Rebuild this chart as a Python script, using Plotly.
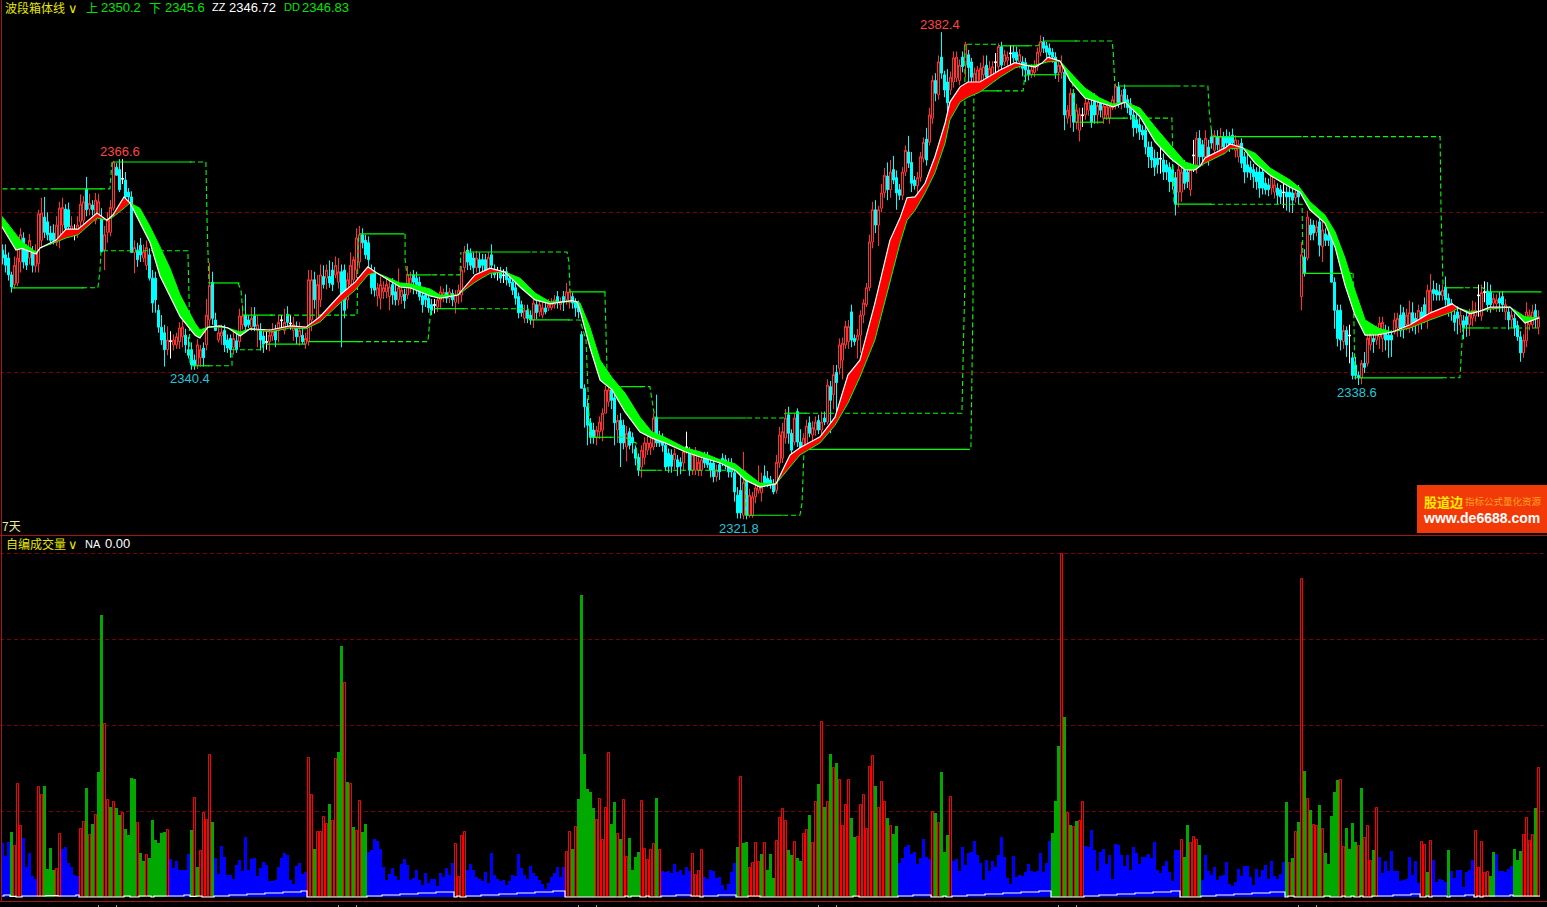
import numpy as np
import plotly.graph_objects as go

# ---------- candles (price) ----------
KIND_ROWS = [
"d d d d u u u d d u","d u u u d d d d u u","u d d u w u u u d u","d u u d u u u u d d","w d d d u d d u u d",
"d d d d d u w u u u","u d d d d u u d u u","d d u u d d d u d u","u d d u d u d d w u","u d u w u d w u d u",
"d u u u d u u d u d","d u u d d u u u u u","d d d d d u u u u u","d d u u d u u d d d","d d d d w u u u d u",
"d u u u u d d d u d","d d u d d w d w d d","d d d d u d d u d u","u d u u u d u d u u","d d d d d d d d u u",
"u u u d d u d d u d","d d d u u u u u d d","d d d d u d d u w d","u u u u d d d d u d","d d d d d d d u d u",
"u u u u d d d d u u","u u d d u d d u u d","u u d u d u d u d u","u u u d d u u u u u","u d u u u d u d d d",
"u u d d d u u u d u","u d u d d d u u u u","d u d d u u u u d u","u w u d u u w d d u","d d d u u u u d d d",
"d d u u d u u d u u","w u u d d u d u u u","u u d u d d d d d d","d d d d d d w d d d","d d u u d d u w u d",
"d u d d u d u d d d","d u u d d d d d d d","d d d u u d d w d d","d u d u d u d d u d","u d d d d d d u d w",
"d d d u d u u d u u","u d d d u u d d u u","d d u d d u u d d d","u d d d d d u d d u","u u w u w d d u u d",
"d u d u d d d u u u","u d u"]

TOP = [
2355.3,2354.7,2354.3,2352.2,2353.4,2354.3,2357.2,2356.8,2355.3,2356.5,
2355.0,2355.0,2359.8,2359.9,2359.4,2358.8,2357.4,2357.4,2358.4,2360.5,
2360.6,2360.4,2360.3,2358.3,2357.5,2358.4,2361.0,2361.3,2362.9,2361.1,
2360.9,2361.5,2361.3,2359.3,2357.2,2359.0,2360.6,2366.25,2365.6,2365.3,
2364.2,2364.0,2362.5,2361.9,2355.6,2355.3,2355.9,2355.1,2355.6,2354.7,
2351.8,2351.8,2347.8,2345.7,2345.0,2344.1,2344.0,2344.1,2344.5,2345.6,
2345.7,2344.7,2342.9,2342.9,2341.6,2343.5,2342.9,2343.1,2347.2,2350.9,
2351.3,2346.6,2345.0,2345.1,2345.3,2344.1,2344.3,2344.3,2344.0,2347.1,
2347.1,2347.2,2346.6,2346.8,2347.1,2346.0,2345.3,2344.6,2343.9,2344.7,
2345.1,2345.3,2346.3,2346.6,2346.3,2347.3,2346.2,2346.0,2345.7,2345.3,
2344.7,2344.3,2351.6,2351.6,2351.6,2351.0,2352.2,2352.0,2352.8,2352.0,
2352.8,2353.4,2352.6,2352.6,2352.8,2351.6,2353.4,2354.1,2356.8,2357.2,
2357.2,2356.5,2356.2,2352.6,2352.6,2350.6,2351.0,2350.6,2351.0,2350.7,
2351.0,2350.1,2350.6,2350.3,2349.8,2352.2,2351.8,2352.2,2351.8,2351.3,
2349.6,2349.7,2349.3,2348.5,2348.5,2349.1,2350.1,2350.0,2350.0,2350.1,
2349.9,2349.7,2350.3,2352.8,2355.05,2355.3,2354.9,2354.3,2354.3,2354.1,
2354.1,2354.1,2354.4,2354.7,2352.8,2352.6,2352.6,2352.2,2352.6,2351.8,
2351.3,2350.6,2349.5,2348.5,2347.8,2347.8,2347.2,2348.7,2348.5,2348.5,
2348.1,2348.1,2348.5,2348.7,2349.1,2349.5,2348.8,2349.5,2350.1,2350.1,
2349.5,2348.8,2348.5,2344.8,2338.1,2335.8,2333.8,2332.9,2332.9,2333.9,
2335.0,2337.9,2337.9,2337.9,2336.9,2334.1,2334.1,2333.5,2332.5,2332.7,
2332.0,2330.5,2329.5,2330.4,2331.3,2331.3,2331.3,2334.4,2334.5,2332.0,
2331.9,2331.0,2330.0,2329.8,2330.0,2329.2,2328.9,2330.2,2330.8,2330.2,
2329.8,2330.0,2328.9,2329.2,2329.5,2329.5,2328.8,2328.8,2327.9,2328.6,
2329.4,2329.2,2328.8,2328.8,2327.6,2324.8,2325.4,2326.4,2326.7,2324.8,
2324.6,2325.7,2326.1,2325.8,2327.2,2326.9,2326.7,2326.1,2328.9,2332.3,
2332.7,2334.4,2334.8,2332.5,2334.4,2335.2,2331.4,2331.9,2333.4,2333.8,
2333.2,2333.9,2334.1,2333.9,2334.4,2338.5,2338.3,2339.8,2340.1,2343.5,
2343.7,2345.8,2345.8,2347.6,2344.3,2344.7,2347.2,2348.7,2350.6,2356.3,
2360.3,2360.3,2360.3,2362.4,2364.6,2364.5,2365.0,2365.3,2364.3,2362.8,
2365.0,2367.7,2367.5,2366.2,2364.0,2364.3,2366.9,2368.7,2369.1,2372.1,
2376.4,2376.4,2378.7,2379.3,2377.1,2376.2,2376.8,2379.2,2379.3,2378.3,
2379.3,2380.9,2379.6,2378.7,2377.3,2377.7,2377.9,2378.1,2378.3,2377.9,
2378.1,2378.7,2380.6,2380.6,2379.6,2379.3,2379.8,2379.9,2379.9,2379.6,
2378.7,2378.6,2377.7,2377.7,2378.3,2379.9,2381.2,2381.2,2380.7,2380.4,
2379.9,2379.3,2378.3,2378.3,2377.4,2372.7,2374.8,2374.8,2372.7,2372.2,
2372.1,2373.6,2373.7,2373.3,2374.0,2373.3,2373.6,2373.2,2373.2,2373.1,
2374.0,2375.7,2375.6,2374.6,2375.3,2374.0,2373.5,2372.1,2371.5,2370.9,
2370.2,2370.2,2368.1,2368.1,2366.7,2366.7,2366.7,2366.5,2365.9,2365.6,
2365.3,2364.3,2365.3,2365.0,2365.3,2365.0,2365.3,2367.1,2369.2,2369.2,
2368.4,2369.2,2368.1,2369.4,2369.6,2369.4,2369.4,2369.4,2369.4,2369.4,
2369.6,2369.0,2368.4,2368.6,2366.9,2365.9,2365.6,2365.3,2365.0,2365.0,
2365.0,2363.6,2363.4,2364.6,2363.4,2363.0,2362.8,2362.5,2362.5,2362.5,
2362.4,2362.4,2362.8,2354.7,2354.4,2359.4,2358.4,2358.4,2358.2,2358.8,
2357.8,2357.3,2357.1,2356.8,2351.3,2347.8,2347.8,2345.3,2345.3,2344.7,
2341.9,2341.0,2339.7,2341.2,2341.2,2344.3,2344.7,2344.3,2345.3,2346.2,
2346.3,2345.0,2344.7,2344.7,2346.6,2346.8,2347.2,2347.5,2347.2,2347.5,
2347.5,2346.8,2347.8,2347.6,2348.5,2350.3,2350.3,2350.4,2350.3,2350.1,
2350.3,2350.7,2349.3,2348.7,2347.2,2347.6,2347.2,2346.5,2347.0,2347.2,
2347.8,2347.8,2349.7,2350.0,2350.1,2350.2,2350.1,2349.3,2349.1,2349.3,
2349.5,2348.5,2347.6,2347.2,2346.8,2345.9,2344.5,2344.1,2347.6,2347.2,
2347.6,2347.8,2347.0]
BOTTOM = [
2354.3,2353.4,2352.2,2350.7,2351.0,2351.2,2353.8,2353.8,2353.4,2354.3,
2353.4,2353.3,2353.6,2356.5,2357.5,2357.2,2356.5,2356.5,2356.2,2356.5,
2358.4,2358.0,2358.2,2357.5,2357.4,2357.5,2358.8,2359.0,2360.3,2360.4,
2360.3,2359.0,2359.7,2355.1,2355.3,2357.5,2357.5,2360.5,2364.6,2362.8,
2364.1,2361.9,2361.9,2355.0,2355.0,2354.1,2354.7,2354.3,2353.4,2351.8,
2348.7,2349.1,2345.7,2344.1,2342.9,2342.9,2343.9,2343.5,2343.5,2343.9,
2344.5,2343.5,2342.2,2341.0,2340.9,2341.0,2341.9,2341.9,2343.5,2346.6,
2346.8,2345.3,2344.1,2344.6,2343.5,2343.1,2342.9,2343.2,2342.9,2343.9,
2346.0,2345.8,2346.0,2345.7,2345.8,2345.3,2344.1,2343.6,2343.8,2343.9,
2344.6,2344.1,2345.3,2346.5,2345.3,2346.3,2346.1,2345.3,2344.5,2344.5,
2343.9,2343.6,2343.9,2346.6,2349.1,2346.8,2349.1,2351.0,2351.8,2351.2,
2351.0,2352.2,2351.3,2349.6,2347.8,2349.1,2351.0,2351.6,2352.8,2353.8,
2356.2,2354.7,2354.1,2350.6,2350.3,2349.6,2349.3,2350.1,2350.1,2349.5,
2349.7,2349.1,2349.1,2349.5,2349.0,2349.7,2350.6,2351.3,2351.0,2349.5,
2348.5,2349.1,2348.1,2347.8,2348.4,2348.2,2349.1,2349.3,2349.3,2349.3,
2349.1,2348.8,2349.7,2349.7,2353.1,2353.8,2353.4,2353.1,2353.1,2353.1,
2353.4,2352.8,2352.8,2353.4,2352.2,2352.5,2351.8,2352.1,2351.6,2351.2,
2350.3,2349.3,2347.5,2347.5,2346.8,2346.8,2346.6,2346.6,2347.5,2347.6,
2347.2,2347.6,2348.1,2348.1,2348.5,2348.8,2348.5,2348.8,2349.1,2348.8,
2348.7,2348.1,2347.6,2338.1,2335.8,2333.5,2332.0,2332.0,2332.0,2332.7,
2332.9,2335.0,2336.4,2336.6,2333.8,2332.9,2331.3,2331.3,2330.8,2331.0,
2331.3,2329.4,2327.9,2328.3,2329.5,2330.4,2330.7,2330.8,2331.3,2331.3,
2331.0,2328.3,2328.4,2328.4,2329.2,2328.3,2328.4,2328.8,2330.7,2327.9,
2327.9,2327.9,2327.9,2327.9,2328.8,2328.6,2327.9,2327.1,2327.1,2327.7,
2328.8,2328.6,2327.7,2327.7,2325.2,2322.6,2322.6,2322.3,2322.3,2322.3,
2322.3,2324.6,2325.4,2325.1,2326.3,2326.3,2326.1,2325.2,2325.4,2328.8,
2329.4,2331.9,2332.5,2330.4,2331.4,2331.4,2330.4,2330.7,2331.0,2332.5,
2332.3,2332.9,2332.9,2332.9,2333.9,2333.9,2336.6,2337.3,2338.8,2340.6,
2341.6,2343.5,2343.9,2344.1,2343.9,2344.1,2344.7,2347.2,2348.5,2350.6,
2356.3,2358.4,2358.4,2360.5,2362.4,2362.8,2362.8,2364.0,2362.4,2362.1,
2362.1,2365.0,2366.1,2363.6,2363.3,2363.3,2364.3,2366.7,2366.5,2368.7,
2371.7,2374.8,2374.6,2377.3,2375.2,2373.6,2375.2,2376.2,2376.7,2376.4,
2378.1,2378.3,2378.0,2376.8,2375.8,2375.5,2376.4,2377.1,2376.8,2376.7,
2377.1,2378.6,2378.1,2378.3,2378.7,2378.9,2379.7,2379.2,2378.9,2378.7,
2377.9,2377.7,2377.1,2377.1,2377.4,2378.1,2379.9,2380.4,2379.9,2379.6,
2379.3,2377.3,2377.4,2377.4,2372.1,2371.7,2372.0,2371.2,2371.2,2370.2,
2372.0,2372.1,2372.7,2371.2,2372.1,2372.1,2372.7,2371.7,2372.1,2371.7,
2373.0,2373.3,2373.6,2373.6,2373.7,2373.0,2372.1,2370.5,2370.5,2370.0,
2369.6,2368.1,2366.9,2366.5,2365.6,2365.9,2366.6,2365.0,2365.0,2363.8,
2363.8,2361.0,2362.5,2362.5,2363.6,2363.8,2362.8,2367.0,2365.9,2366.9,
2366.9,2366.9,2366.9,2368.6,2367.7,2368.4,2367.7,2368.1,2368.6,2368.4,
2368.6,2367.7,2366.9,2366.1,2365.0,2365.0,2364.9,2364.4,2363.8,2363.0,
2363.0,2362.8,2362.8,2363.0,2362.5,2362.1,2361.9,2362.4,2361.9,2361.9,
2361.5,2361.8,2361.9,2349.5,2352.4,2354.3,2357.2,2357.4,2357.5,2355.9,
2355.7,2356.5,2356.5,2351.3,2347.8,2344.3,2344.1,2343.9,2343.5,2344.6,
2339.7,2339.7,2339.4,2339.4,2340.7,2341.2,2343.5,2343.9,2344.1,2344.5,
2344.3,2344.1,2344.1,2344.1,2345.1,2345.6,2345.3,2345.7,2346.0,2345.7,
2346.0,2346.0,2346.2,2346.6,2347.0,2347.2,2347.6,2349.9,2349.7,2349.7,
2349.6,2349.1,2348.1,2347.6,2346.3,2346.8,2346.0,2345.6,2346.0,2346.0,
2346.8,2347.1,2349.6,2347.1,2350.0,2348.5,2348.5,2348.7,2348.6,2348.7,
2348.5,2347.6,2346.6,2346.6,2345.6,2344.5,2342.5,2342.5,2344.0,2346.0,
2346.0,2346.8,2345.7]
HIGH = [
2356.0,2356.0,2355.0,2352.6,2354.5,2355.5,2358.0,2357.5,2356.0,2357.3,
2355.8,2356.0,2360.3,2361.8,2361.9,2360.0,2358.3,2358.5,2359.5,2361.3,
2361.8,2361.0,2361.2,2359.5,2358.5,2359.5,2362.2,2362.0,2364.4,2362.3,
2361.5,2362.4,2362.3,2360.5,2358.3,2360.0,2361.5,2366.4,2366.1,2366.6,
2366.6,2365.0,2363.0,2362.6,2356.5,2356.2,2356.8,2356.0,2356.5,2355.5,
2352.8,2352.6,2348.5,2347.2,2346.0,2345.8,2345.2,2344.8,2345.0,2346.3,
2346.5,2345.5,2344.5,2343.8,2342.3,2344.2,2343.5,2343.8,2349.2,2353.7,
2352.6,2347.5,2345.8,2346.0,2346.0,2344.8,2344.8,2345.3,2345.0,2348.0,
2348.5,2349.8,2347.2,2348.2,2348.2,2347.2,2346.2,2345.2,2345.2,2345.5,
2346.2,2346.0,2347.2,2347.2,2348.0,2348.3,2347.2,2347.0,2346.4,2346.3,
2345.5,2345.0,2352.8,2352.8,2352.6,2352.2,2353.5,2353.4,2353.5,2354.0,
2353.8,2354.5,2354.3,2353.5,2353.5,2352.5,2355.0,2354.5,2358.0,2358.3,
2358.0,2357.2,2357.0,2353.5,2353.2,2351.2,2352.0,2351.4,2352.0,2351.5,
2351.8,2351.0,2353.0,2351.2,2350.5,2353.3,2352.6,2352.8,2352.6,2352.0,
2350.3,2350.2,2350.0,2349.2,2349.2,2349.7,2350.8,2350.5,2351.0,2350.6,
2350.4,2350.3,2351.0,2353.3,2355.8,2356.1,2355.5,2355.0,2355.2,2355.0,
2354.8,2354.8,2355.0,2356.0,2353.5,2353.2,2353.2,2352.9,2353.2,2352.4,
2352.0,2351.2,2350.0,2349.0,2348.5,2348.5,2347.8,2349.3,2349.2,2349.2,
2348.8,2348.7,2349.2,2349.3,2349.7,2350.2,2349.4,2350.2,2351.2,2350.5,
2350.0,2349.3,2349.0,2345.2,2338.6,2336.8,2334.4,2333.8,2333.4,2334.6,
2335.6,2338.4,2338.8,2338.6,2337.3,2334.8,2335.0,2334.2,2333.4,2333.2,
2332.6,2331.0,2330.0,2331.0,2332.0,2332.2,2332.0,2335.0,2337.3,2332.8,
2332.5,2331.6,2330.6,2330.5,2330.6,2329.8,2329.5,2330.8,2332.7,2330.8,
2330.4,2330.8,2329.5,2329.8,2330.2,2330.2,2329.6,2329.4,2328.6,2329.2,
2330.0,2329.8,2329.4,2329.4,2328.3,2325.8,2328.2,2330.2,2327.4,2325.6,
2325.2,2326.4,2328.5,2327.6,2328.5,2327.8,2327.2,2326.8,2329.8,2333.3,
2333.8,2335.5,2335.8,2333.0,2335.0,2335.6,2333.0,2332.5,2334.2,2334.6,
2334.0,2334.6,2334.8,2335.2,2335.2,2339.2,2339.0,2341.0,2341.0,2344.3,
2344.4,2346.5,2346.6,2348.5,2344.8,2345.5,2347.8,2349.2,2351.2,2357.2,
2361.3,2361.5,2360.8,2363.5,2365.5,2366.2,2366.5,2367.0,2365.2,2363.5,
2365.6,2368.3,2369.5,2367.5,2364.5,2365.0,2367.5,2369.3,2370.5,2373.0,
2377.0,2377.3,2379.5,2382.4,2377.6,2377.8,2377.5,2380.0,2380.0,2379.0,
2380.0,2381.2,2380.2,2379.2,2378.0,2378.2,2378.6,2379.5,2379.5,2378.8,
2378.8,2379.8,2381.0,2381.2,2380.2,2380.0,2380.8,2380.8,2380.6,2380.3,
2379.4,2379.2,2378.2,2378.4,2378.9,2380.5,2382.0,2381.8,2381.2,2381.0,
2380.4,2379.9,2378.8,2379.5,2378.0,2373.3,2375.4,2375.3,2373.5,2373.0,
2373.0,2374.3,2374.5,2374.2,2374.8,2374.2,2374.2,2373.8,2373.9,2373.6,
2374.5,2376.0,2376.2,2375.2,2375.9,2374.6,2374.2,2372.8,2372.2,2371.6,
2370.8,2370.8,2368.8,2368.8,2367.8,2367.5,2369.8,2367.3,2366.5,2366.2,
2366.0,2365.0,2365.8,2366.0,2366.5,2365.8,2366.0,2369.0,2370.0,2370.2,
2369.0,2370.2,2369.0,2370.3,2370.2,2370.2,2370.5,2370.0,2370.3,2370.0,
2370.4,2369.6,2369.0,2369.2,2367.5,2367.2,2366.4,2366.0,2365.6,2366.2,
2365.6,2364.3,2364.2,2365.2,2364.0,2363.6,2363.4,2363.8,2363.2,2363.4,
2363.0,2363.4,2363.4,2356.3,2355.4,2360.2,2359.2,2359.0,2359.0,2359.6,
2358.8,2358.0,2357.6,2357.5,2351.9,2348.5,2348.5,2346.0,2345.8,2346.0,
2342.6,2342.0,2340.2,2341.6,2342.6,2344.9,2345.5,2344.8,2345.9,2347.0,
2347.0,2346.0,2345.8,2345.3,2347.5,2347.5,2348.5,2348.2,2348.0,2349.0,
2348.8,2347.5,2348.5,2348.2,2349.4,2351.0,2352.3,2351.5,2351.2,2351.0,
2351.0,2352.0,2349.9,2349.2,2347.8,2348.3,2347.8,2347.2,2347.6,2348.0,
2349.0,2348.8,2351.0,2351.0,2351.4,2351.3,2351.0,2349.9,2349.8,2350.1,
2350.2,2349.2,2348.2,2347.8,2347.4,2346.5,2345.2,2344.8,2348.8,2347.9,
2348.5,2348.6,2347.8]
LOW = [
2353.5,2352.5,2351.5,2350.0,2350.5,2350.8,2352.5,2353.0,2352.8,2353.5,
2352.5,2352.5,2352.5,2355.5,2356.8,2356.5,2356.0,2356.0,2355.8,2355.5,
2357.5,2357.5,2357.4,2357.0,2356.5,2356.8,2358.0,2358.4,2359.5,2359.6,
2359.6,2358.5,2359.2,2355.0,2352.8,2356.2,2357.0,2360.2,2364.8,2362.5,
2363.5,2361.5,2361.2,2355.0,2352.4,2353.2,2353.8,2353.8,2352.8,2351.5,
2347.5,2347.5,2345.0,2343.5,2340.8,2342.2,2341.8,2342.8,2343.0,2343.0,
2343.2,2342.5,2341.8,2340.4,2340.4,2340.5,2340.8,2340.8,2342.8,2345.8,
2346.0,2345.2,2343.8,2343.5,2342.6,2342.5,2341.9,2342.3,2342.5,2343.2,
2345.4,2345.2,2345.6,2345.2,2345.2,2343.2,2342.8,2342.5,2342.9,2342.7,
2344.0,2343.2,2343.8,2345.5,2344.8,2345.8,2345.4,2344.0,2343.6,2343.4,
2343.6,2343.0,2343.4,2345.2,2348.0,2346.2,2348.2,2350.5,2350.4,2350.6,
2350.2,2351.8,2350.5,2343.2,2346.8,2348.0,2350.0,2350.2,2351.8,2353.0,
2355.5,2354.2,2353.2,2349.8,2349.5,2348.3,2347.9,2349.2,2349.3,2347.8,
2348.5,2348.4,2348.4,2348.6,2348.0,2349.2,2350.0,2349.8,2349.8,2349.0,
2347.5,2348.2,2347.5,2347.2,2347.4,2347.6,2348.0,2348.8,2348.7,2348.7,
2348.3,2347.4,2348.6,2348.8,2352.5,2352.8,2352.8,2352.3,2352.5,2352.5,
2352.6,2352.2,2352.2,2351.8,2351.8,2351.5,2351.2,2351.2,2350.9,2350.7,
2349.7,2348.5,2346.8,2347.0,2346.2,2346.2,2346.0,2345.6,2346.7,2347.0,
2346.8,2347.3,2347.7,2347.8,2348.0,2348.0,2347.8,2347.7,2348.5,2348.0,
2348.0,2347.0,2346.8,2338.1,2333.2,2331.0,2331.2,2331.2,2331.0,2331.8,
2331.5,2335.0,2335.8,2335.5,2331.0,2331.3,2328.3,2330.5,2329.0,2330.5,
2330.0,2328.5,2327.2,2327.0,2328.6,2329.8,2329.8,2330.4,2330.8,2330.8,
2330.2,2327.8,2327.6,2327.6,2328.0,2327.2,2327.4,2327.8,2330.0,2327.2,
2327.3,2327.3,2327.2,2327.2,2328.2,2328.2,2327.0,2326.4,2326.5,2326.7,
2328.4,2328.0,2327.0,2327.0,2324.0,2321.9,2321.9,2321.8,2321.8,2322.0,
2322.0,2323.8,2325.0,2324.0,2325.8,2325.8,2325.6,2324.9,2325.0,2328.2,
2328.8,2331.2,2331.2,2329.4,2331.0,2330.8,2329.8,2330.2,2330.4,2332.0,
2331.0,2332.2,2332.4,2332.3,2333.5,2333.6,2332.5,2335.5,2334.0,2339.8,
2339.2,2343.0,2343.0,2343.2,2343.4,2341.8,2342.5,2346.2,2348.2,2350.2,
2355.5,2357.4,2355.8,2360.0,2361.8,2361.5,2361.8,2363.5,2360.3,2361.5,
2361.5,2364.5,2365.5,2362.5,2362.8,2362.4,2363.8,2366.2,2365.8,2368.3,
2371.0,2373.8,2374.0,2376.6,2374.3,2372.5,2374.6,2375.5,2376.2,2375.8,
2377.4,2376.8,2375.0,2375.8,2374.5,2374.8,2375.6,2376.3,2375.8,2375.8,
2376.6,2377.2,2377.4,2377.3,2378.2,2378.2,2378.2,2378.6,2378.2,2377.9,
2376.9,2376.2,2376.4,2376.7,2376.8,2377.6,2379.4,2379.8,2379.2,2378.9,
2378.6,2376.6,2376.2,2376.6,2370.2,2371.0,2370.5,2370.0,2370.3,2368.8,
2370.6,2371.5,2372.0,2370.5,2371.0,2371.0,2371.8,2371.0,2371.5,2371.0,
2372.7,2372.8,2373.0,2372.8,2373.0,2372.3,2371.5,2369.4,2369.8,2369.0,
2369.0,2367.2,2365.5,2365.5,2364.5,2364.8,2364.8,2364.0,2364.0,2362.5,
2362.8,2359.6,2360.6,2361.3,2362.8,2363.0,2362.0,2365.0,2364.8,2365.8,
2365.8,2366.3,2365.8,2367.9,2367.0,2367.7,2367.0,2367.2,2367.8,2367.5,
2367.8,2366.8,2366.2,2365.5,2363.6,2364.3,2364.0,2363.0,2362.8,2361.8,
2362.2,2362.2,2362.0,2362.2,2361.7,2361.0,2361.0,2360.5,2360.2,2360.0,
2359.9,2361.2,2361.0,2347.8,2352.0,2354.0,2356.5,2356.5,2357.0,2354.5,
2353.8,2355.8,2355.8,2351.3,2345.5,2343.3,2342.8,2343.0,2342.0,2341.2,
2339.2,2339.2,2338.5,2338.6,2340.0,2340.8,2342.8,2342.5,2343.5,2343.0,
2342.6,2342.8,2341.9,2342.0,2344.8,2344.5,2344.5,2344.3,2345.3,2345.0,
2345.2,2344.8,2345.0,2345.4,2346.2,2345.5,2346.7,2349.0,2349.0,2349.0,
2349.0,2348.4,2347.0,2346.5,2345.2,2344.8,2345.0,2344.2,2344.5,2344.6,
2345.8,2346.4,2347.0,2346.5,2348.8,2347.6,2347.5,2347.8,2347.6,2347.6,
2347.6,2346.6,2345.4,2345.6,2344.6,2344.0,2341.4,2341.9,2343.2,2345.3,
2345.5,2345.6,2344.8]

# ---------- moving-average band: vertices (bar index), fast line, slow line ----------
BAND_X = [
-0.2,4.5,6.5,11.2,12.5,17.8,21.2,25.2,31.5,34.8,
36.8,40.5,42.5,45.8,49.2,52.5,55.8,59.2,64.2,65.8,
68.5,72.5,75.2,79.2,82.5,89.2,95.8,101.2,105.8,112.5,
117.5,121.8,124.5,132.5,135.8,142.5,145.8,151.8,157.5,162.5,
167.5,172.5,177.5,182.5,186.5,189.8,191.5,192.5,195.8,199.2,
203.2,207.5,212.5,216.5,220.8,227.5,232.5,239.2,244.2,247.5,
252.5,257.8,262.5,265.8,272.5,277.5,281.8,285.8,290.8,295.8,
299.2,301.5,304.2,307.5,310.8,314.2,315.8,319.2,321.8,325.8,332.5,
337.5,340.8,344.2,346.5,348.5,352.5,355.8,360.8,365.8,370.2,
374.2,379.2,384.2,389.2,394.2,397.5,399.2,400.8,407.5,409.2,
413.5,417.5,422.5,429.2,432.5,435.8,440.8,444.2,447.5,450.8,
454.2,458.5,463.2,469.2,475.8,483.2,485.2,489.2,492.5,495.8,
502.5,507.5,512.2]
FAST = [
2358.2,2355.3,2355.5,2354.8,2355.55,2356.5,2357.9,2357.9,2359.9,2359.0,
2359.65,2361.9,2361.15,2358.65,2356.2,2352.05,2349.6,2347.0,2344.7,2344.35,
2345.7,2345.85,2345.6,2344.6,2345.5,2345.35,2345.85,2345.7,2347.0,2349.7,
2351.3,2353.2,2352.5,2350.7,2350.6,2349.6,2349.3,2349.7,2352.2,2353.05,
2352.55,2350.7,2349.1,2348.6,2348.85,2349.0,2348.85,2347.8,2343.2,2339.1,
2337.9,2335.15,2332.65,2331.9,2331.3,2330.2,2329.55,2328.8,2327.9,2326.7,
2325.8,2326.2,2329.8,2330.7,2332.05,2334.5,2339.75,2341.6,2348.7,2356.5,
2359.3,2361.8,2361.9,2363.6,2366.9,2371.1,2373.7,2375.6,2376.2,2376.2,2377.7,
2378.6,2378.3,2378.05,2378.55,2379.3,2378.8,2376.4,2374.2,2373.6,2373.1,
2373.7,2371.85,2368.75,2366.75,2365.25,2365.25,2365.75,2366.75,2368.0,2368.5,
2368.0,2366.1,2364.6,2363.1,2362.5,2360.3,2358.65,2355.65,2350.95,2347.2,
2344.7,2344.75,2345.1,2346.0,2347.45,2348.6,2348.1,2347.35,2347.7,2348.2,
2348.2,2346.2,2346.85]
SLOW = [
2359.5,2357.2,2356.3,2355.05,2355.55,2356.3,2356.8,2357.2,2359.3,2359.0,
2359.4,2360.5,2361.15,2360.5,2358.2,2355.7,2353.05,2349.7,2346.2,2345.35,
2345.7,2345.7,2345.6,2345.1,2345.5,2345.1,2345.6,2345.5,2346.35,2348.7,
2350.3,2352.2,2352.5,2351.2,2351.1,2350.45,2349.7,2349.7,2351.3,2352.4,
2352.55,2351.8,2349.95,2348.85,2348.85,2348.85,2348.85,2348.7,2345.7,2341.6,
2339.4,2337.5,2334.5,2332.65,2332.0,2330.7,2330.2,2329.2,2328.7,2327.7,
2326.3,2326.2,2328.3,2329.8,2331.3,2333.5,2336.25,2339.5,2344.1,2351.2,
2356.2,2359.0,2360.25,2362.4,2364.9,2368.6,2371.5,2373.7,2374.3,2374.95,2376.8,
2377.95,2378.3,2378.3,2378.55,2378.7,2378.8,2377.4,2375.45,2374.2,2373.45,
2373.7,2372.95,2370.6,2368.4,2366.25,2365.85,2365.75,2366.1,2367.35,2367.9,
2368.0,2367.35,2365.5,2364.0,2363.0,2361.3,2359.65,2357.55,2354.3,2350.3,
2346.6,2345.6,2345.1,2345.6,2346.6,2347.6,2348.1,2347.6,2347.7,2347.95,
2348.2,2347.0,2346.85]

# ---------- box lines (bar index, price) ----------
SOLID_X = [3,27,None,16,33,None,37,63,None,70,79,None,80,90,None,63,69,None,88,101,None,102,119,None,119,134,None,135,143,None,
144,154,None,154,176,None,176,189,None,189,201,None,196,203,None,206,213,None,212,218,None,218,248,None,248,260,None,261,268,None,
267,321,None,333,342,None,342,351,None,324,332,None,347,358,None,359,367,None,367,374,None,372,391,None,391,403,None,403,433,None,
434,450,None,452,480,None,481,487,None,487,494,None,495,513]
SOLID_Y = [2350.6,2350.6,None,2362.9,2362.9,None,2366.25,2366.25,None,2351.2,2351.2,None,2347.2,2347.2,None,2340.9,2340.9,None,
2343.6,2343.6,None,2343.9,2343.9,None,2357.3,2357.3,None,2352.2,2352.2,None,2348.0,2348.0,None,2355.05,2355.05,None,2346.6,2346.6,None,
2350.1,2350.1,None,2332.0,2332.0,None,2338.3,2338.3,None,2327.9,2327.9,None,2334.4,2334.4,None,2322.3,2322.3,None,2335.0,2335.0,None,
2330.5,2330.5,None,2380.7,2380.7,None,2377.1,2377.1,None,2375.1,2375.1,None,2381.3,2381.3,None,2371.2,2371.2,None,2371.7,2371.7,None,
2375.7,2375.7,None,2361.0,2361.0,None,2369.4,2369.4,None,2352.4,2352.4,None,2339.4,2339.4,None,2350.6,2350.6,None,2345.6,2345.6,None,
2350.1,2350.1]
DASH_X = [0,16,None,32.5,35.8,36.5,None,62.5,67.8,68.2,68.8,69.8,None,78.5,79.5,80.2,None,89.2,118.2,118.5,118.8,None,
134.2,134.2,134.8,None,143.2,152.5,152.8,None,176.5,188.2,188.8,189.2,None,200.8,201.5,202.2,205.8,None,212.5,215.8,216.5,217.5,None,
248.2,260.2,260.8,None,267.5,319.8,320.8,320.8,331.5,332.5,None,341.5,345.2,346.5,None,357.5,369.8,370.2,370.8,None,391,401.8,402.2,403.2,None,
433.5,479.2,479.5,480.2,None,487.5,493.5,494.8,None,26.5,31.8,32.5,32.8,None,33.5,61.8,62.2,62.5,None,68.5,76.5,76.5,86.5,86.8,None,
118.5,141.8,142.8,None,153.5,175.2,175.8,None,188.5,192.5,194.5,195.8,None,202.5,207.5,211.2,211.8,None,218.2,247.5,247.8,None,
260.2,265.8,266.5,267.2,None,320.8,322.8,323.5,323.8,324.2,None,331.5,340.2,340.8,341.8,None,350.8,356.5,357.8,358.5,None,
373.5,389.8,390.5,390.8,None,402.5,433.2,433.5,434.2,None,450.2,450.8,451.5,None,479.8,485.8,486.8,487.5,None,494.2,511.8]
DASH_Y = [2362.9,2362.9,None,2362.9,2362.9,2366.25,None,2366.25,2366.25,2358.8,2351.2,2351.2,None,2351.2,2350.3,2347.2,None,2347.2,2347.2,2355.3,2357.3,None,
2357.3,2354.1,2352.2,None,2352.2,2352.2,2355.05,None,2355.05,2355.05,2353.8,2350.1,None,2350.1,2340.4,2338.5,2338.3,None,2338.3,2338.3,2336.6,2334.4,None,
2334.4,2334.4,2335.0,None,2335.0,2335.0,2351.6,2380.9,2380.9,2380.7,None,2380.7,2380.7,2381.3,None,2381.3,2381.3,2380.2,2375.7,None,2375.7,2375.7,2372.7,2369.4,None,
2369.4,2369.4,2360.3,2350.6,None,2350.6,2350.6,2350.1,None,2350.6,2350.6,2352.8,2355.05,None,2355.2,2355.2,2349.1,2340.9,None,2340.9,2340.9,2342.9,2342.9,2343.6,None,
2343.9,2343.9,2348.0,None,2348.0,2348.0,2346.6,None,2346.6,2346.6,2344.1,2332.0,None,2332.0,2332.0,2331.3,2327.9,None,2327.9,2327.9,2322.3,None,
2322.3,2322.3,2323.8,2330.5,None,2330.5,2330.5,2349.1,2375.0,2375.1,None,2375.1,2375.1,2377.0,2377.1,None,2377.1,2377.1,2371.2,2371.2,None,
2371.7,2371.7,2361.0,2361.0,None,2361.0,2361.0,2352.4,2352.4,None,2352.4,2339.4,2339.4,None,2339.4,2339.4,2345.6,2345.6,None,2345.6,2345.6]

# ---------- volume ----------
VOL = [
163,124,166,196,154,339,213,178,91,132,64,55,330,306,334,85,148,82,84,189,
145,151,103,91,67,64,204,225,328,186,220,246,376,847,519,291,271,285,268,247,
252,205,187,358,355,222,133,109,126,118,232,172,163,193,196,201,115,88,109,82,
82,82,130,202,297,91,138,252,231,426,226,118,70,154,121,67,67,55,97,112,
79,181,82,115,118,64,88,106,97,49,49,52,91,118,133,127,52,40,94,103,
70,76,417,306,145,195,195,240,220,280,228,414,436,754,642,346,339,211,198,288,
196,220,136,142,175,169,145,91,52,70,88,64,52,
100,114,97,52,58,82,52,37,73,43,55,55,34,73,61,88,67,103,159,60,183,195,82,100,82,61,55,49,76,43,133,67,55,49,52,37,49,67,64,130,88,67,55,94,73,64,52,40,25,43,61,73,91,61,91,
135,195,145,210,295,907,430,325,316,268,231,294,171,267,432,220,286,189,175,291,120,178,82,121,136,288,144,111,141,159,298,141,
79,76,79,73,100,76,82,67,91,79,129,66,78,141,61,55,82,79,58,61,37,22,40,76,103,
151,360,163,166,87,102,162,105,130,162,82,130,58,168,237,264,228,142,127,165,118,109,
189,201,247,162,285,340,525,271,285,430,387,403,351,213,276,351,238,181,180,276,306,204,390,423,334,267,345,285,238,213,190,214,
103,118,151,157,130,136,100,118,175,121,115,256,253,222,376,136,187,300,
109,115,79,151,97,133,136,169,127,103,52,112,79,109,91,127,181,121,58,40,124,61,67,64,76,100,79,76,79,133,76,103,169,
193,289,454,1030,541,252,217,210,229,228,285,
154,151,202,142,79,136,145,100,127,55,160,157,127,94,127,82,151,133,100,121,121,130,118,166,82,73,94,109,76,49,142,142,
171,121,217,162,180,171,157,
52,127,79,67,91,52,64,67,106,40,34,46,85,64,94,94,61,37,85,61,82,97,55,109,64,55,70,106,
286,102,118,195,226,954,379,294,262,216,213,277,204,133,100,244,316,352,351,150,208,145,223,166,153,328,177,213,108,142,267,
121,73,109,79,139,79,79,49,52,55,121,67,109,43,165,156,76,168,112,46,55,52,46,142,79,58,82,82,31,76,82,112,
198,87,165,72,75,64,136,130,79,79,76,85,94,145,112,139,186,237,168,186,268,387]
RED_BARS = [4,5,6,12,13,18,19,26,27,29,31,34,35,37,40,45,48,55,64,66,67,68,69,102,103,105,106,107,108,110,111,114,116,118,119,
151,152,153,154,188,189,191,198,199,200,201,202,205,207,208,213,214,215,216,217,219,230,231,232,233,246,249,250,251,252,254,258,259,260,261,264,
267,268,270,271,273,275,277,279,280,281,282,285,286,287,288,289,290,292,293,294,296,310,312,316,353,355,357,359,360,393,396,397,398,
429,431,433,435,437,438,440,446,447,452,454,455,456,458,473,474,476,491,492,493,494,495,507,508,509,510,512]
GREEN_BARS = [3,14,15,16,17,28,30,32,33,36,38,39,41,42,43,44,46,47,49,50,51,52,53,54,63,65,70,104,109,112,113,115,117,120,121,
190,192,193,194,195,196,197,203,204,206,209,210,211,212,218,245,247,248,253,255,256,257,262,263,265,266,
269,272,274,276,278,283,284,291,295,297,298,311,313,314,315,350,351,352,354,356,358,394,395,399,
428,430,432,434,436,439,441,442,443,444,445,448,449,450,451,453,457,475,482,496,497,504,505,506,511]

# step line under the volume bars: first bar of each step, and its value
STEP_I = [0,1,3,5,7,15,19,25,26,41,43,46,50,51,61,63,65,67,71,76,82,88,94,100,102,122,127,133,139,145,151,152,153,155,160,166,172,178,184,188,
208,209,210,213,215,216,220,225,230,233,234,239,245,249,253,284,286,299,304,310,314,315,317,322,328,334,340,346,350,361,366,372,378,384,390,393,
400,405,411,417,423,428,429,431,441,443,447,448,450,451,453,454,457,459,464,470,473,475,476,477,482,483,488,491,492,493,494,498,503,504]
STEP_V = [3,6,2,0,3,4,3,6,0,3,0,3,0,3,6,2,3,0,3,6,9,12,15,18,0,3,6,9,12,15,0,3,0,3,6,9,12,15,18,0,
3,0,3,0,3,0,3,6,3,0,3,6,0,3,0,3,0,3,6,0,3,0,3,6,9,12,15,18,0,3,6,9,12,15,18,0,
3,6,9,12,15,0,3,0,3,0,3,0,3,0,3,0,3,3,6,9,0,3,0,3,0,3,6,0,3,0,3,3,6,3]
AXIS_TICKS = [32,38,112,118,192,198,272,278,352,358,432,438]
VOL_GRID = [258,516,774,1032]
PRICE_GRID = [2360,2340]

# ---------- derived ----------
KIND = np.array(" ".join(KIND_ROWS).split())
idx = np.arange(513)
top, bot, hi, lo = map(np.array, (TOP, BOTTOM, HIGH, LOW))
opens = np.where(KIND == "d", top, bot)
closes = np.where(KIND == "d", bot, top)

fig = go.Figure()
def candles(mask, inc, dec):
    fig.add_trace(go.Candlestick(
        x=idx[mask], open=opens[mask], high=hi[mask], low=lo[mask], close=closes[mask],
        whiskerwidth=0, hoverinfo="skip", showlegend=False,
        increasing=dict(line=dict(color=inc, width=1), fillcolor="#000000" if inc != "#ffffff" else "#ffffff"),
        decreasing=dict(line=dict(color=dec, width=1), fillcolor=dec),
        xaxis="x", yaxis="y"))
candles(KIND == "u", "#ff3232", "#00ffff")
candles(KIND == "d", "#ff3232", "#00ffff")
candles(KIND == "w", "#ffffff", "#ffffff")

fig.add_trace(go.Scatter(x=SOLID_X, y=SOLID_Y, mode="lines", line=dict(color="#00ff00", width=1.2),
                         hoverinfo="skip", showlegend=False))
fig.add_trace(go.Scatter(x=DASH_X, y=DASH_Y, mode="lines", line=dict(color="#00ff00", width=1.1, dash="5px,3px"),
                         hoverinfo="skip", showlegend=False))

# band: one filled polygon for each run where the fast line stays on one side of the slow line
n = len(BAND_X)
k = 0
while k < n - 1:
    sign = (FAST[k] - SLOW[k]) + (FAST[k + 1] - SLOW[k + 1]) >= 0
    j = k + 1
    while j < n - 1 and ((FAST[j] - SLOW[j]) + (FAST[j + 1] - SLOW[j + 1]) >= 0) == sign:
        j += 1
    xs = BAND_X[k:j + 1]
    fig.add_trace(go.Scatter(x=xs + xs[::-1], y=FAST[k:j + 1] + SLOW[k:j + 1][::-1], mode="lines", fill="toself",
                             fillcolor="#ff0000" if sign else "#00ff00", line=dict(width=0),
                             hoverinfo="skip", showlegend=False))
    k = j
fig.add_trace(go.Scatter(x=BAND_X, y=SLOW, mode="lines", line=dict(color="#00ff00", width=1), hoverinfo="skip", showlegend=False))
fig.add_trace(go.Scatter(x=BAND_X, y=FAST, mode="lines", line=dict(color="#ffffff", width=1.2), hoverinfo="skip", showlegend=False))

# volume
vol = np.array(VOL)
red = np.array(RED_BARS)
green = np.array(GREEN_BARS)
blue = np.setdiff1d(idx, np.concatenate([red, green]))
fig.add_trace(go.Bar(x=blue, y=vol[blue], width=1.0, marker=dict(color="#0000ff", line=dict(width=0)),
                     hoverinfo="skip", showlegend=False, xaxis="x2", yaxis="y2"))
fig.add_trace(go.Bar(x=green, y=vol[green], width=1.0, marker=dict(color="#00a800", line=dict(width=0)),
                     hoverinfo="skip", showlegend=False, xaxis="x2", yaxis="y2"))
fig.add_trace(go.Bar(x=red, y=vol[red], width=2 / 3, marker=dict(color="#000000", line=dict(color="#ff0000", width=1)),
                     hoverinfo="skip", showlegend=False, xaxis="x2", yaxis="y2"))
fig.add_trace(go.Scatter(x=[i - 0.5 for i in STEP_I] + [512.5], y=STEP_V + [3], mode="lines",
                         line=dict(color="#ffffff", width=1.2, shape="hv"),
                         hoverinfo="skip", showlegend=False, xaxis="x2", yaxis="y2"))
tick_x, tick_y = [], []
for t in AXIS_TICKS:
    tick_x += [t, t, None]
    tick_y += [-24, -30, None]
fig.add_trace(go.Scatter(x=tick_x, y=tick_y, mode="lines", line=dict(color="#9a9a9a", width=1),
                         hoverinfo="skip", showlegend=False, xaxis="x2", yaxis="y2"))

W, H = 1547, 907
def txt(x, y, s, color, size=13, anchor="left", font="Liberation Sans", weight=None):
    f = dict(color=color, size=size, family=font)
    if weight:
        f["weight"] = weight
    fig.add_annotation(xref="paper", yref="paper", x=x / W, y=1 - y / H, text=s, showarrow=False,
                       xanchor=anchor, yanchor="middle", font=f, borderpad=0, borderwidth=0)

CJK = "Noto Sans CJK SC"
YEL = "#e6e600"
GRN = "#00e600"
txt(5, 7.5, "波段箱体线", YEL, 12, font=CJK)
txt(67.5, 8, "∨", YEL, 13, font="DejaVu Sans")
txt(86, 7.5, "上", GRN, 12, font=CJK)
txt(101, 7.5, "2350.2", GRN)
txt(149, 7.5, "下", GRN, 12, font=CJK)
txt(165, 7.5, "2345.6", GRN)
txt(212, 7.5, "ZZ", "#ffffff", 11)
txt(229, 7.5, "2346.72", "#ffffff")
txt(284, 7.5, "DD", GRN, 11)
txt(302, 7.5, "2346.83", GRN)
txt(6, 543.5, "自编成交量", YEL, 12, font=CJK)
txt(67.5, 544, "∨", YEL, 13, font="DejaVu Sans")
txt(85, 543.5, "NA", "#ffffff", 11)
txt(105, 543.5, "0.00", "#ffffff")
txt(2, 525.5, "7天", "#e6e6a0", 12, font=CJK)
RED_T, CYA_T = "#ff4444", "#20c8d8"
txt(120, 151.5, "2366.6", RED_T, anchor="center")
txt(940, 24, "2382.4", RED_T, anchor="center")
txt(190, 378.5, "2340.4", CYA_T, anchor="center")
txt(739, 528, "2321.8", CYA_T, anchor="center")
txt(1357, 392, "2338.6", CYA_T, anchor="center")
txt(1424, 501, "股道边", "#ffee00", 13, font=CJK, weight=700)
txt(1465, 501, "指标公式量化资源", "#ffa020", 9.5, font=CJK)
txt(1423, 518, "www.de6688.com", "#ffffff", 14, font="Liberation Sans", weight=700)

def px_line(x0, y0, x1, y1, c="#a81414"):
    return dict(type="line", xref="paper", yref="paper", x0=x0 / W, x1=x1 / W, y0=1 - y0 / H, y1=1 - y1 / H,
                line=dict(color=c, width=1), layer="above")
shapes = [px_line(1.5, 0, 1.5, 901), px_line(0, 535.5, W, 535.5), px_line(0, 901.5, W, 901.5),
          dict(type="rect", xref="paper", yref="paper", x0=1417 / W, x1=1, y0=1 - 533 / H, y1=1 - 485 / H,
               fillcolor="#f23a08", line=dict(width=0), layer="above")]

xr = [-2.5 / 3, (W - 2.5) / 3]
pane = dict(showgrid=True, griddash="4px,3px", gridcolor="#7a0000", gridwidth=1, zeroline=False, showline=False,
            showticklabels=False, ticks="")
fig.update_layout(
    width=W, height=H, margin=dict(l=0, r=0, t=0, b=0), paper_bgcolor="#000000", plot_bgcolor="#000000",
    showlegend=False, barmode="overlay", bargap=0, boxgap=0.05, boxgroupgap=0.3, hovermode=False,
    font=dict(family="Liberation Sans"), shapes=shapes,
    xaxis=dict(domain=[0, 1], range=xr, anchor="y", showgrid=False, zeroline=False, showticklabels=False,
               ticks="", rangeslider=dict(visible=False)),
    xaxis2=dict(domain=[0, 1], range=xr, anchor="y2", showgrid=False, zeroline=False, showticklabels=False, ticks=""),
    yaxis=dict(domain=[1 - 534 / H, 1], range=[2386.4 - 0.1244 * 534, 2386.4], tickvals=PRICE_GRID, **pane),
    yaxis2=dict(domain=[0, 1 - 535 / H], range=[-30, 1086], tickvals=VOL_GRID, **pane),
)
fig.write_html("out.html", config=dict(displayModeBar=False),
               post_script="document.body.style.margin='0';document.body.style.background='#000';document.documentElement.style.overflow='hidden';")
